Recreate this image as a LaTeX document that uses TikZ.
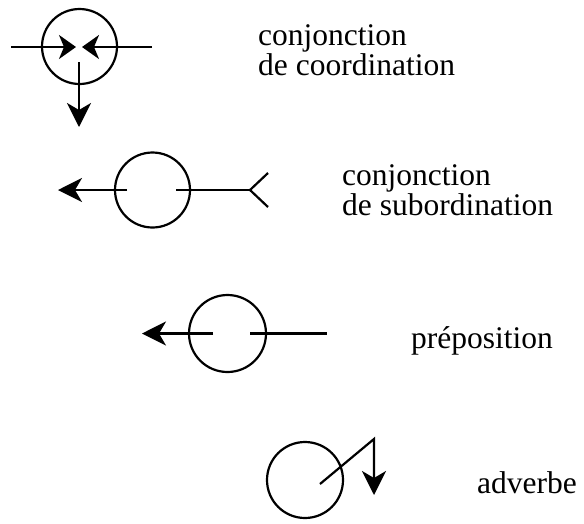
\documentclass[tikz,border=0pt]{standalone}
\usepackage{fontspec}
\setmainfont{Liberation Serif}
\usetikzlibrary{arrows.meta}

\begin{document}
\begin{tikzpicture}[x=1pt,y=-1pt,
    garis/.style={line width=2.2pt},
    panah/.style={line width=2.2pt,-{Stealth[length=24pt,width=24pt,inset=7pt]}},
    panahpendek/.style={line width=2.2pt,-{Stealth[length=17pt,width=24pt,inset=5pt]}},
    bulat/.style={circle,draw,line width=2.2pt,inner sep=0pt},
    teks/.style={anchor=base west,inner sep=0pt,align=left,font=\fontsize{31.5}{28}\selectfont}]
        \useasboundingbox (0,0) rectangle (584,523);
        %CONJONCTION DE COORDINATION
        \node[bulat, minimum size=75pt] (C1) at (79.5,46.5) {};
        \coordinate (A1) at (11,47);
        \coordinate (A2) at (152,47);
        \coordinate (T1) at (76,47);
        \coordinate (T2) at (82,47);
        \coordinate (B1) at (79,62);
        \coordinate (B2) at (79,127);
        \draw[panahpendek] (A1) -- (T1);
        \draw[panahpendek] (A2) -- (T2);
        \draw[panah] (B1) -- (B2);
        \node[teks] (L1) at (258,75) {conjonction\\de coordination};
        %CONJONCTION DE SUBORDINATION
        \node[bulat, minimum size=75pt] (C2) at (152.5,190) {};
        \coordinate (P1) at (127,190);
        \coordinate (P2) at (58,190);
        \coordinate (Q1) at (176,190);
        \coordinate (Q2) at (250,190);
        \coordinate (F1) at (268,173);
        \coordinate (F2) at (268,207);
        \draw[panah] (P1) -- (P2);
        \draw[garis] (Q1) -- (Q2);
        \draw[garis] (F1) -- (Q2) -- (F2);
        \node[teks] (L2) at (342,215) {conjonction\\de subordination};
        %PREPOSITION
        \node[bulat, minimum size=77pt] (C3) at (227.5,333.5) {};
        \coordinate (R1) at (213,333.5);
        \coordinate (R2) at (142,333.5);
        \coordinate (S1) at (250,333.5);
        \coordinate (S2) at (327,333.5);
        \draw[panah] (R1) -- (R2);
        \draw[garis] (S1) -- (S2);
        \node[teks] (L3) at (411,348) {préposition};
        %ADVERBE
        \node[bulat, minimum size=76pt] (C4) at (305,480) {};
        \coordinate (U1) at (320,484);
        \coordinate (U2) at (374,439);
        \coordinate (U3) at (374,495);
        \draw[panah] (U1) -- (U2) -- (U3);
        \node[teks] (L4) at (477,493) {adverbe};
\end{tikzpicture}
\end{document}
